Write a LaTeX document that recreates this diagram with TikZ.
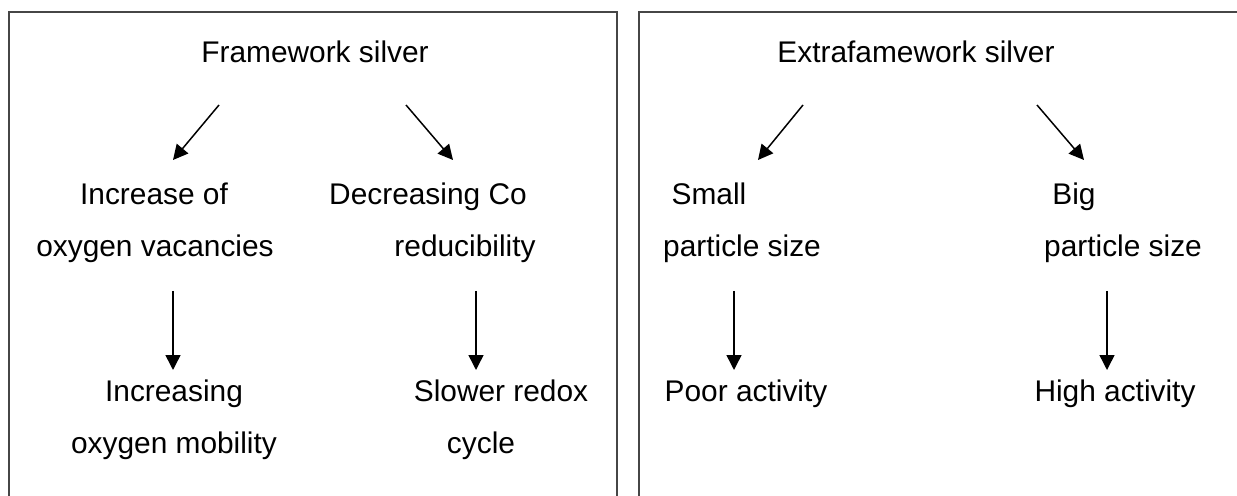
\documentclass[tikz,border=0pt]{standalone}
\usepackage{fontspec}
\setmainfont{Liberation Sans}
\usetikzlibrary{arrows.meta}
\definecolor{framecolor}{RGB}{70,70,70}

\tikzset{
  txt/.style={anchor=base, inner sep=0pt, font=\fontsize{17}{20}\selectfont},
  arr/.style={-{Triangle[length=8.5pt,width=8.5pt]}, line width=0.85pt},
  panel/.style={draw=framecolor, line width=1.2pt}
}

\begin{document}
\begin{tikzpicture}[x=0.02cm, y=-0.02cm]

\useasboundingbox (0,0) rectangle (1237,496);
\clip (0,0) rectangle (1237,496);

% Two panels, open at the bottom
\draw[panel] (9,530) -- (9,12) -- (617,12) -- (617,530);
\draw[panel] (639,530) -- (639,12) -- (1260,12);

% Left panel: framework silver
\node[txt] (fw)   at (315,63)  {Framework silver};
\node[txt] (inc)  at (154,205) {Increase of};
\node[txt] (vac)  at (155,257) {oxygen vacancies};
\node[txt] (dec)  at (428,205) {Decreasing Co};
\node[txt] (red)  at (465,257) {reducibility};
\node[txt] (incr) at (174,401) {Increasing};
\node[txt] (mob)  at (174,453) {oxygen mobility};
\node[txt] (slow) at (501,401) {Slower redox};
\node[txt] (cyc)  at (481,453) {cycle};

% Right panel: extraframework silver
\node[txt] (efw)   at (916,63)   {Extrafamework silver};
\node[txt] (small) at (709,205)  {Small};
\node[txt] (psl)   at (742,257)  {particle size};
\node[txt] (big)   at (1074,205) {Big};
\node[txt] (psb)   at (1123,257) {particle size};
\node[txt] (poor)  at (746,401)  {Poor activity};
\node[txt] (high)  at (1115,401) {High activity};

% Arrow end points
\coordinate (fwL)   at (219,105);  \coordinate (incT)  at (173,160);
\coordinate (fwR)   at (406,105);  \coordinate (decT)  at (453,160);
\coordinate (efwL)  at (803,105);  \coordinate (smallT) at (758,160);
\coordinate (efwR)  at (1037,105); \coordinate (bigT)  at (1084,160);
\coordinate (vacB)  at (173,291);  \coordinate (incrT) at (173,370);
\coordinate (redB)  at (476,291);  \coordinate (slowT) at (476,370);
\coordinate (pslB)  at (734,291);  \coordinate (poorT) at (734,370);
\coordinate (psbB)  at (1107,291); \coordinate (highT) at (1107,370);

% Arrows
\draw[arr] (fwL) -- (incT);
\draw[arr] (fwR) -- (decT);
\draw[arr] (efwL) -- (smallT);
\draw[arr] (efwR) -- (bigT);
\draw[arr] (vacB) -- (incrT);
\draw[arr] (redB) -- (slowT);
\draw[arr] (pslB) -- (poorT);
\draw[arr] (psbB) -- (highT);

\end{tikzpicture}
\end{document}
